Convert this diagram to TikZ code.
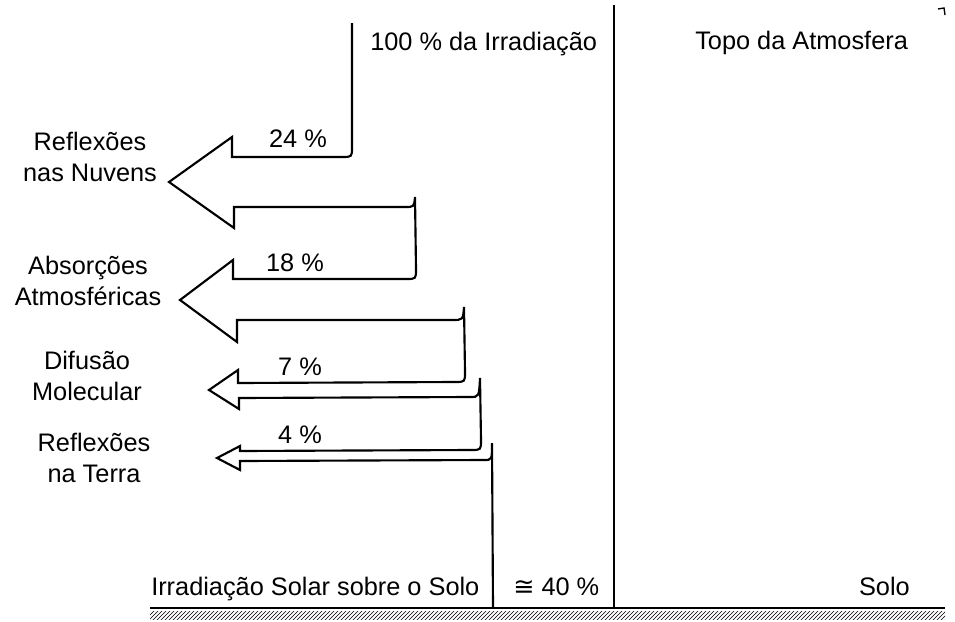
\documentclass[tikz,border=0pt]{standalone}
\usepackage{fontspec}
\setmainfont{Liberation Sans}
\newfontfamily\symfont{DejaVu Sans}
\usetikzlibrary{patterns}
\begin{document}
\begin{tikzpicture}[x=0.75pt,y=-0.75pt,
  txt/.style={inner sep=0pt,font=\fontsize{19}{23.5}\selectfont},
  side/.style={txt,align=center},
  band/.style={line width=1.6pt,line join=miter}]
\useasboundingbox (0,0) rectangle (955,621);
%
\node[txt,anchor=base west](irr) at (370,50) {100 \% da Irradiação};
\node[txt,anchor=base west](topo) at (695,49) {Topo da Atmosfera};
\draw[band](614,5) -- (614,608);
\draw[line width=1pt](938,9) -- (944,8) -- (945,15);
%
% faixa que se vai estreitando
\draw[band](352,23) -- (352,147) .. controls (352,157) .. (342,157)
  -- (232,157) -- (232,137) -- (169,182) -- (234,228) -- (234,207)
  -- (405,207) .. controls (414,207) .. (415,197)
  -- (416,269) .. controls (416,279) .. (406,279)
  -- (233,279) -- (233,260) -- (180,300) -- (237,342) -- (237,320)
  -- (452,320) .. controls (463,320) .. (464,307)
  -- (465,372) .. controls (465,382) .. (455,382)
  -- (238,383) -- (238,370) -- (209,390) -- (239,409) -- (239,398)
  -- (470,397) .. controls (479,397) .. (480,378)
  -- (481,440) .. controls (481,450) .. (471,450)
  -- (240,451) -- (240,446) -- (217,458) -- (240,470) -- (240,461)
  -- (484,460) .. controls (492,460) .. (492,443)
  -- (493,608);
%
\node[txt,anchor=base](p24) at (298,147) {24 \%};
\node[txt,anchor=base](p18) at (295,271) {18 \%};
\node[txt,anchor=base](p7) at (300,375) {7 \%};
\node[txt,anchor=base](p4) at (300,443) {4 \%};
%
\node[side](nuv) at (90,157) {Reflexões\\nas Nuvens};
\node[side](abs) at (88,281) {Absorções\\Atmosféricas};
\node[side](dif) at (87,376) {Difusão\\Molecular};
\node[side](ter) at (94,458) {Reflexões\\na Terra};
%
\node[txt,anchor=base west](sup) at (151,595) {Irradiação Solar sobre o Solo};
\node[txt,anchor=base west](p40) at (513,595) {{\symfont ≅} 40 \%};
\node[txt,anchor=base east](solo) at (910,595) {Solo};
%
\draw[band](150,608) -- (945,608);
\fill[pattern=north east lines](150,611) rectangle (945,619);
\end{tikzpicture}
\end{document}
